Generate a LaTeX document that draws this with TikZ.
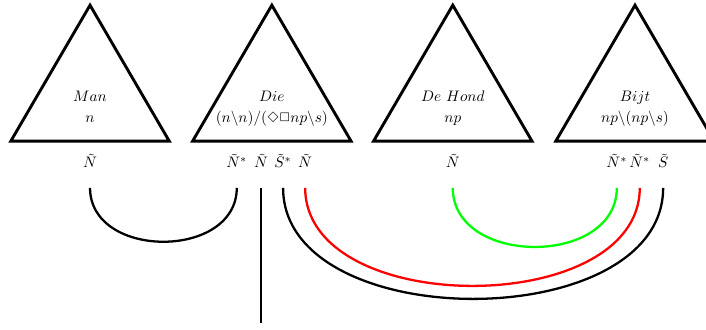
\documentclass[tikz,border=0pt]{standalone}
\usepackage{amsmath}
\usepackage{latexsym,amssymb}
\begin{document}
\begin{tikzpicture}[tri/.style={line width=1.9pt}, link/.style={line width=1.5pt}, lbl/.style={anchor=base, inner sep=0.5pt}]
		\useasboundingbox (0,0) rectangle (16.31,-7.62);
		
		% the four word triangles
		\foreach \x in {2.08,6.28,10.46,14.67}
			\draw[tri] (\x-1.83,-3.26) -- (\x,-0.12) -- (\x+1.83,-3.26) -- cycle;
		
		\node[lbl] (man) at (2.08,-2.35) {$Man$};
		\node[lbl] (mantype) at (2.08,-2.82) {$n$};
		\node[lbl] (die) at (6.28,-2.35) {$Die$};
		\node[lbl] (dietype) at (6.28,-2.82) {$(n\backslash n)/(\Diamond\Box np\backslash s)$};
		\node[lbl] (hond) at (10.46,-2.35) {$De\ Hond$};
		\node[lbl] (hondtype) at (10.46,-2.82) {$np$};
		\node[lbl] (bijt) at (14.67,-2.35) {$Bijt$};
		\node[lbl] (bijttype) at (14.67,-2.82) {$np\backslash(np\backslash s)$};
		
		% proof net atoms
		\node[lbl] (manN) at (2.08,-3.88) {$\tilde{N}$};
		\node[lbl] (dieNa) at (5.47,-3.88) {$\tilde{N}^*$};
		\node[lbl] (dieNb) at (6.03,-3.88) {$\tilde{N}$};
		\node[lbl] (dieS) at (6.54,-3.88) {$\tilde{S}^*$};
		\node[lbl] (dieNc) at (7.05,-3.88) {$\tilde{N}$};
		\node[lbl] (hondN) at (10.46,-3.88) {$\tilde{N}$};
		\node[lbl] (bijtNa) at (14.25,-3.88) {$\tilde{N}^*$};
		\node[lbl] (bijtNb) at (14.78,-3.88) {$\tilde{N}^*$};
		\node[lbl] (bijtS) at (15.32,-3.88) {$\tilde{S}$};
		
		\coordinate (root) at (6.03,-7.46);
		
		% axiom links
		\draw[link] ([yshift=-4.6mm]manN.base) .. controls +(0,-1.66) and +(0,-1.66) .. ([yshift=-4.6mm]dieNa.base);
		\draw[link] ([yshift=-4.6mm]dieNb.base) -- (root);
		\draw[link] ([yshift=-4.6mm]dieS.base) .. controls +(0,-3.42) and +(0,-3.42) .. ([yshift=-4.6mm]bijtS.base);
		\draw[link, red] ([yshift=-4.6mm]dieNc.base) .. controls +(0,-3.02) and +(0,-3.02) .. ([yshift=-4.6mm]bijtNb.base);
		\draw[link, green] ([yshift=-4.6mm]hondN.base) .. controls +(0,-1.82) and +(0,-1.82) .. ([yshift=-4.6mm]bijtNa.base);
	\end{tikzpicture}
\end{document}
